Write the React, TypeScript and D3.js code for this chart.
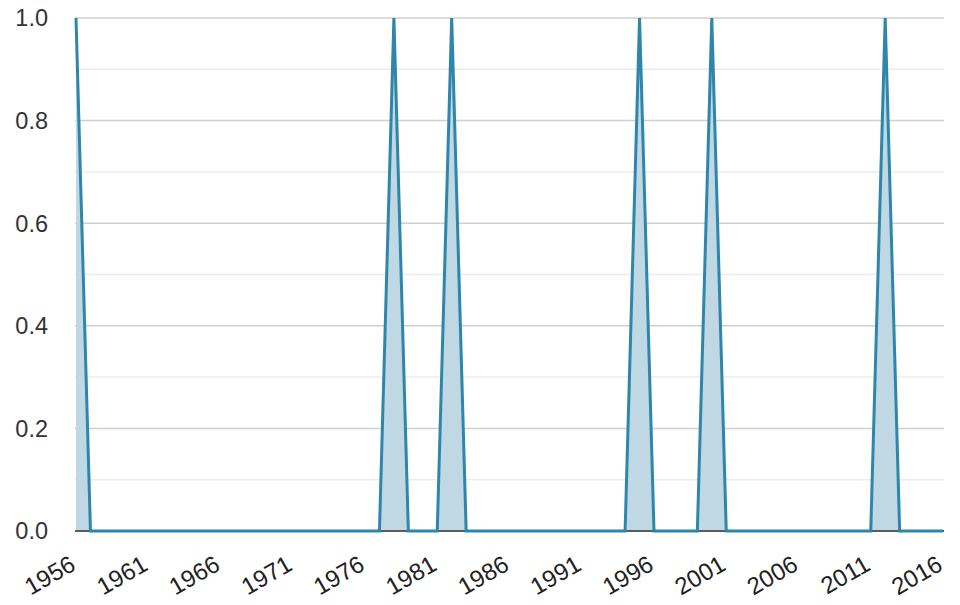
import React from "react";
import * as d3 from "d3";

const years: number[] = [
  1956, 1957, 1958, 1959, 1960, 1961, 1962, 1963, 1964, 1965, 1966, 1967, 1968, 1969, 1970,
  1971, 1972, 1973, 1974, 1975, 1976, 1977, 1978, 1979, 1980, 1981, 1982, 1983, 1984, 1985,
  1986, 1987, 1988, 1989, 1990, 1991, 1992, 1993, 1994, 1995, 1996, 1997, 1998, 1999, 2000,
  2001, 2002, 2003, 2004, 2005, 2006, 2007, 2008, 2009, 2010, 2011, 2012, 2013, 2014, 2015, 2016,
];
const values: number[] = [
  1, 0, 0, 0, 0, 0, 0, 0, 0, 0, 0, 0, 0, 0, 0,
  0, 0, 0, 0, 0, 0, 0, 1, 0, 0, 0, 1, 0, 0, 0,
  0, 0, 0, 0, 0, 0, 0, 0, 0, 1, 0, 0, 0, 0, 1,
  0, 0, 0, 0, 0, 0, 0, 0, 0, 0, 0, 1, 0, 0, 0, 0,
];
const xTicks: number[] = [1956, 1961, 1966, 1971, 1976, 1981, 1986, 1991, 1996, 2001, 2006, 2011, 2016];
const yMajor: number[] = [0, 0.2, 0.4, 0.6, 0.8, 1.0];
const yMinor: number[] = [0.1, 0.3, 0.5, 0.7, 0.9];

const W = 960;
const H = 605;
const left = 76;
const right = 943;
const top = 18;
const bottom = 531;

export default function App() {
  const x = d3.scaleLinear().domain([1956, 2016]).range([left, right]);
  const y = d3.scaleLinear().domain([0, 1]).range([bottom, top]);
  const data = years.map((yr, i) => ({ yr, v: values[i] }));
  const area = d3
    .area<{ yr: number; v: number }>()
    .x((d) => x(d.yr))
    .y0(y(0))
    .y1((d) => y(d.v));
  const line = d3
    .line<{ yr: number; v: number }>()
    .x((d) => x(d.yr))
    .y((d) => y(d.v));
  const font = "'Liberation Sans', Arial, Helvetica, sans-serif";
  return (
    <div style={{ position: "fixed", left: 0, top: 0, width: W, height: H, background: "#fff" }}>
      <svg width={W} height={H} style={{ display: "block" }}>
        <rect width={W} height={H} fill="#fff" />
        {yMinor.map((t) => (
          <line key={"mn" + t} x1={left - 1} x2={right + 1} y1={y(t)} y2={y(t)} stroke="#ececec" strokeWidth={1.5} />
        ))}
        {yMajor.map((t) => (
          <line key={"mj" + t} x1={left - 1} x2={right + 1} y1={y(t)} y2={y(t)} stroke="#d0d0d0" strokeWidth={1.5} />
        ))}
        <path d={area(data) || ""} fill="#bfd8e3" />
        <line x1={left - 1} x2={right + 1} y1={y(0)} y2={y(0)} stroke="#333" strokeWidth={1.5} />
        <path d={line(data) || ""} fill="none" stroke="#2e86ab" strokeWidth={3} strokeLinejoin="miter" />
        {yMajor.map((t) => (
          <text
            key={"yl" + t}
            x={48}
            y={y(t)}
            dy="0.36em"
            textAnchor="end"
            fontFamily={font}
            fontSize={23.5}
            fill="#333"
          >
            {t.toFixed(1)}
          </text>
        ))}
        {xTicks.map((t) => (
          <text
            key={"xl" + t}
            transform={`translate(${x(t) + 1},${bottom + 38}) rotate(-30)`}
            textAnchor="end"
            fontFamily={font}
            fontSize={24}
            fill="#222"
          >
            {t}
          </text>
        ))}
      </svg>
    </div>
  );
}
